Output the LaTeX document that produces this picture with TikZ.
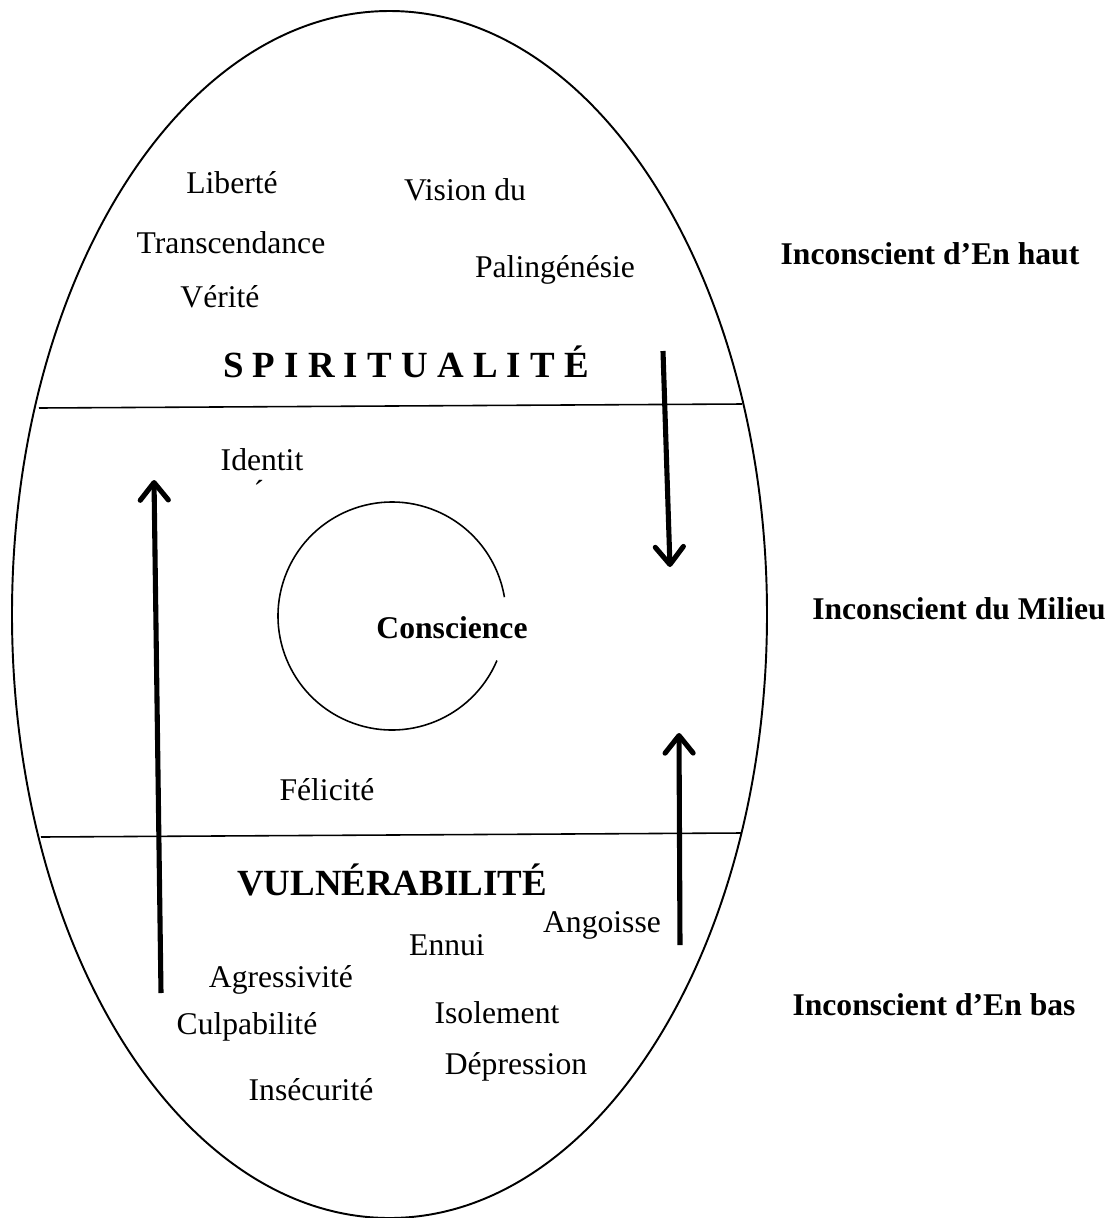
\documentclass[tikz,border=0pt]{standalone}
\usepackage{fontspec}
\setmainfont{Liberation Serif}
\usetikzlibrary{arrows.meta}
\tikzset{
  psyword/.style={font=\fontsize{18}{21}\selectfont,inner sep=0pt},
  psyzone/.style={font=\fontsize{18}{21}\selectfont\bfseries,inner sep=0pt},
  psytitle/.style={font=\fontsize{21}{24}\selectfont\bfseries,inner sep=0pt},
  psydivide/.style={line width=0.9pt},
  psyflow/.style={line width=2.9pt,-{Straight Barb[length=10pt,width=16pt,line cap=round,line join=round]}}
}

\begin{document}
\begin{tikzpicture}[x=0.02cm,y=-0.02cm]
  \useasboundingbox (0,0) rectangle (1117,1218);
  \draw[line width=1.1pt] (389.5,614.5) ellipse (377.5 and 603.5);
  \draw[psydivide] (39,408)--(742,404);
  \draw[psydivide] (41,837)--(741,833);
  \draw[line width=0.9pt] (392,616) ++(23:114) arc (23:350.5:114);
  % upper region
  \node[psyword] (liberte) at (232,183) {Libert\'e};
  \node[psyword] (vision) at (465,190) {Vision du};
  \node[psyword] (transc) at (231,243) {Transcendance};
  \node[psyword] (paling) at (555,270) {Paling\'en\'esie};
  \node[psyword] (verite) at (220,297) {V\'erit\'e};
  \node[psytitle] (spirit) at (406,362) {S P I R I T U A L I T \'E};
  % middle region
  \node[psyword] (identit) at (262,460) {Identit};
  \node[psyword] (accent) at (259,494) {\'{}};
  \node[psyzone] (consc) at (452,628) {Conscience};
  \node[psyword] (felicite) at (327,790) {F\'elicit\'e};
  % lower region
  \node[psytitle] (vulner) at (392,880) {VULN\'ERABILIT\'E};
  \node[psyword] (angoisse) at (602,925) {Angoisse};
  \node[psyword] (ennui) at (447,945) {Ennui};
  \node[psyword] (agress) at (281,980) {Agressivit\'e};
  \node[psyword] (isol) at (497,1013) {Isolement};
  \node[psyword] (culpab) at (247,1027) {Culpabilit\'e};
  \node[psyword] (depress) at (516,1067) {D\'epression};
  \node[psyword] (insecur) at (311,1090) {Ins\'ecurit\'e};
  % levels
  \node[psyzone] (haut) at (930,254) {Inconscient d'En haut};
  \node[psyzone] (milieu) at (959,609) {Inconscient du Milieu};
  \node[psyzone] (bas) at (934,1005) {Inconscient d'En bas};
  % arrows
  \coordinate (upLfoot) at (161,993);
  \coordinate (upLtip) at (154,480);
  \coordinate (downtop) at (663,351);
  \coordinate (downtip) at (670,567);
  \coordinate (upRfoot) at (680,945);
  \coordinate (upRtip) at (679,733);
  \draw[psyflow] (upLfoot)--(upLtip);
  \draw[psyflow] (downtop)--(downtip);
  \draw[psyflow] (upRfoot)--(upRtip);
\end{tikzpicture}
\end{document}
